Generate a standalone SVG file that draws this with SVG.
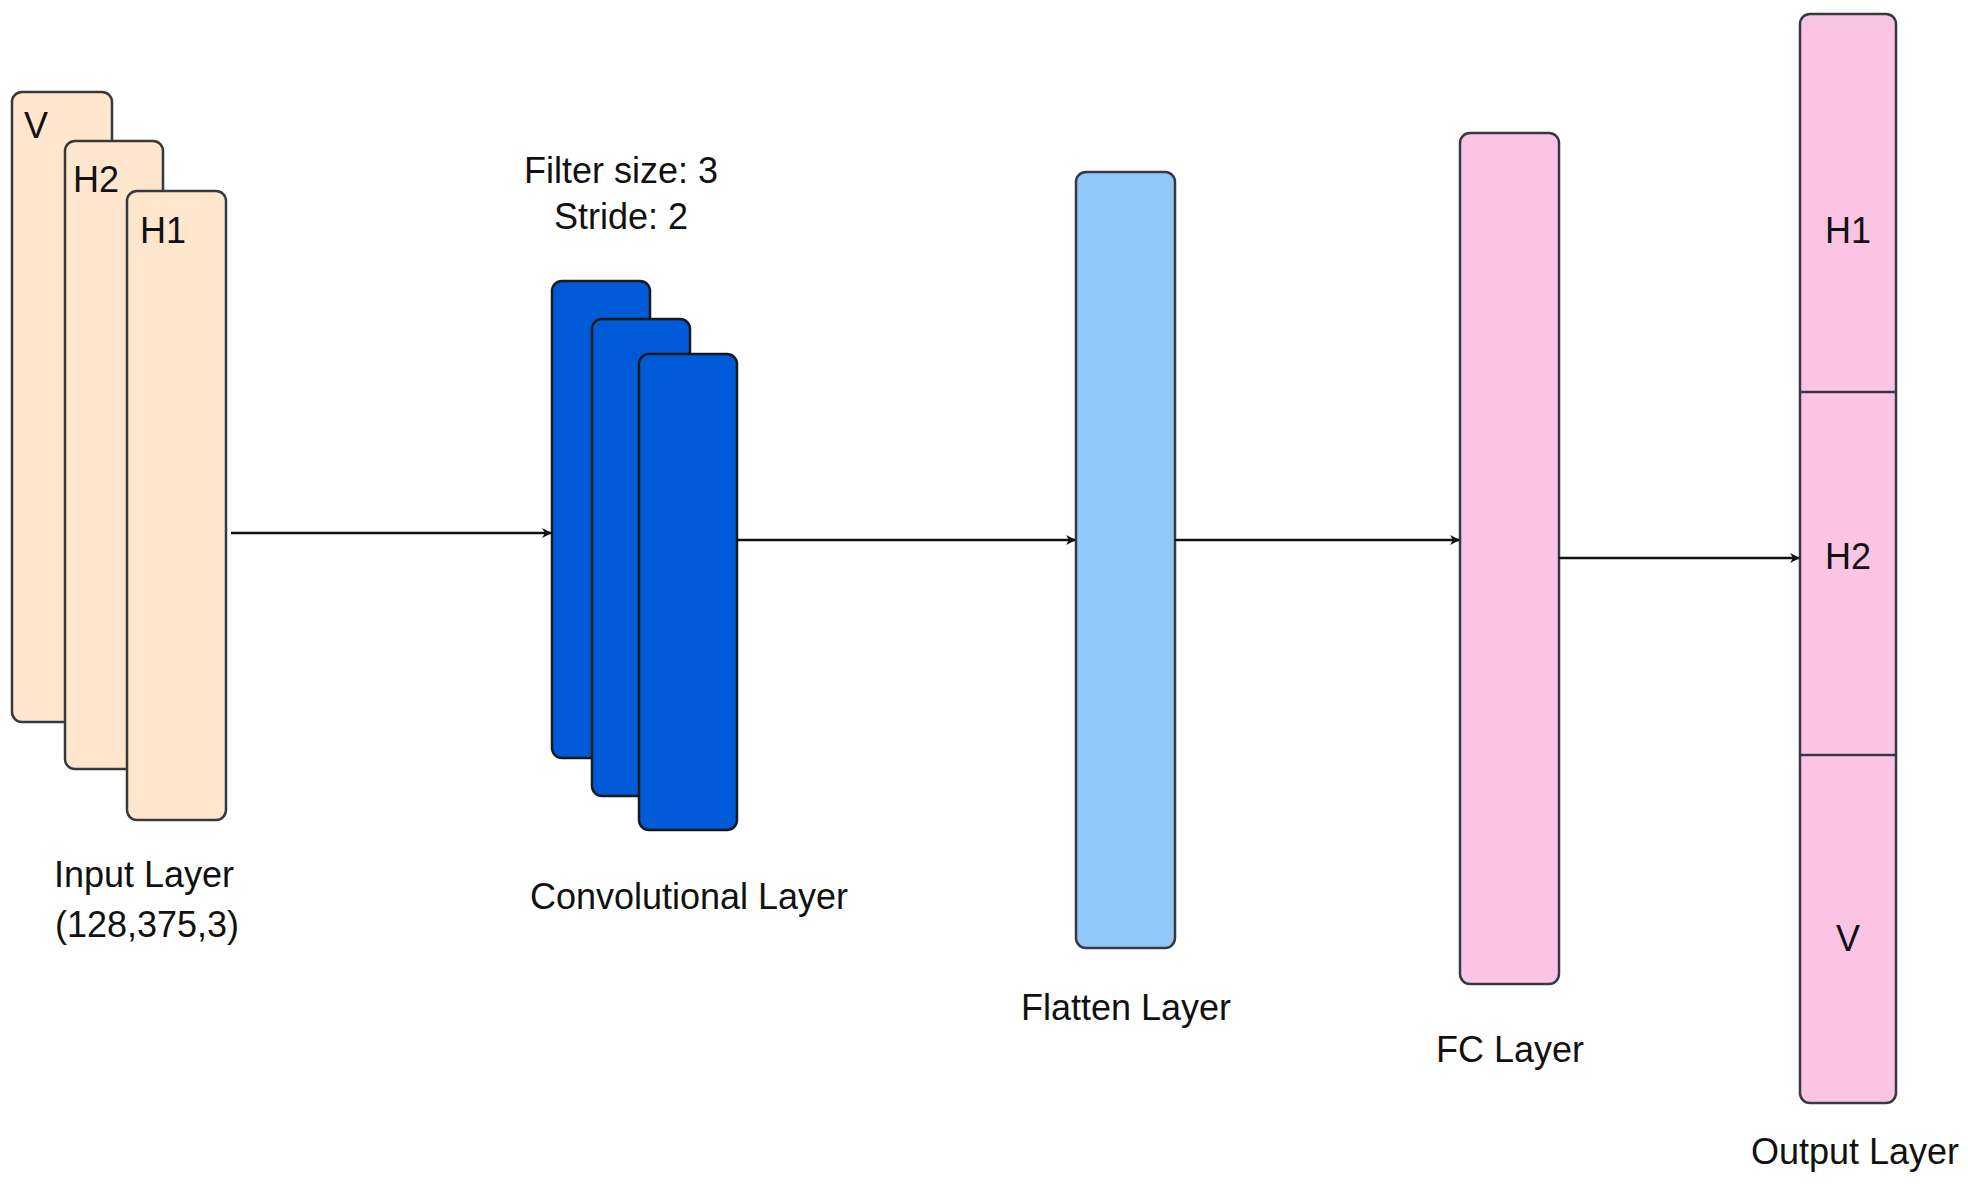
<svg xmlns="http://www.w3.org/2000/svg" width="1968" height="1184" viewBox="0 0 1968 1184">
<defs>
<style>
.in{fill:#ffe6cc;stroke:#36393d;stroke-width:2.5}
.cv{fill:#0059d6;stroke:#1a1a1a;stroke-width:2.5}
.fl{fill:#91c8fb;stroke:#36393d;stroke-width:2.5}
.pk{fill:#fcc4e4;stroke:#36393d;stroke-width:2.5}
text{font-family:"Liberation Sans",Arial,sans-serif;font-size:36px;fill:#111}
.c{text-anchor:middle}
.e{stroke:#111;stroke-width:2.5;fill:none;marker-end:url(#a)}
</style>
<marker id="a" viewBox="0 0 10 10" refX="9" refY="5" markerWidth="10" markerHeight="10" markerUnits="userSpaceOnUse" orient="auto"><path d="M0,0 L10,5 L0,10 L3,5 Z" fill="#111"/></marker>
</defs>
<rect width="1968" height="1184" fill="#fff"/>
<g id="input">
<rect class="in" x="12" y="92" width="100" height="630" rx="10"/>
<text x="24" y="138">V</text>
<rect class="in" x="65" y="141" width="98" height="628" rx="10"/>
<text x="73" y="192">H2</text>
<rect class="in" x="127" y="191" width="99" height="629" rx="10"/>
<text x="140" y="243">H1</text>
<text class="c" x="144" y="887">Input Layer</text>
<text class="c" x="147" y="937">(128,375,3)</text>
</g>
<g id="conv">
<text class="c" x="621" y="183">Filter size: 3</text>
<text class="c" x="621" y="229">Stride: 2</text>
<rect class="cv" x="552" y="281" width="98" height="477" rx="10"/>
<rect class="cv" x="592" y="319" width="98" height="477" rx="10"/>
<rect class="cv" x="639" y="354" width="98" height="476" rx="10"/>
<text class="c" x="689" y="909">Convolutional Layer</text>
</g>
<g id="flatten">
<rect class="fl" x="1076" y="172" width="99" height="776" rx="10"/>
<text class="c" x="1126" y="1020">Flatten Layer</text>
</g>
<g id="fc">
<rect class="pk" x="1460" y="133" width="99" height="851" rx="10"/>
<text class="c" x="1510" y="1062">FC Layer</text>
</g>
<g id="output">
<rect class="pk" x="1800" y="14" width="96" height="1089" rx="10"/>
<line x1="1800" y1="392" x2="1896" y2="392" stroke="#36393d" stroke-width="2.5"/>
<line x1="1800" y1="755" x2="1896" y2="755" stroke="#36393d" stroke-width="2.5"/>
<text class="c" x="1848" y="243">H1</text>
<text class="c" x="1848" y="569">H2</text>
<text class="c" x="1848" y="951">V</text>
<text class="c" x="1855" y="1164">Output Layer</text>
</g>
<g id="connectors">
<line class="e" x1="231" y1="533" x2="551" y2="533"/>
<line class="e" x1="737" y1="540" x2="1075" y2="540"/>
<line class="e" x1="1175" y1="540" x2="1459" y2="540"/>
<line class="e" x1="1559" y1="558" x2="1799" y2="558"/>
</g>
</svg>
